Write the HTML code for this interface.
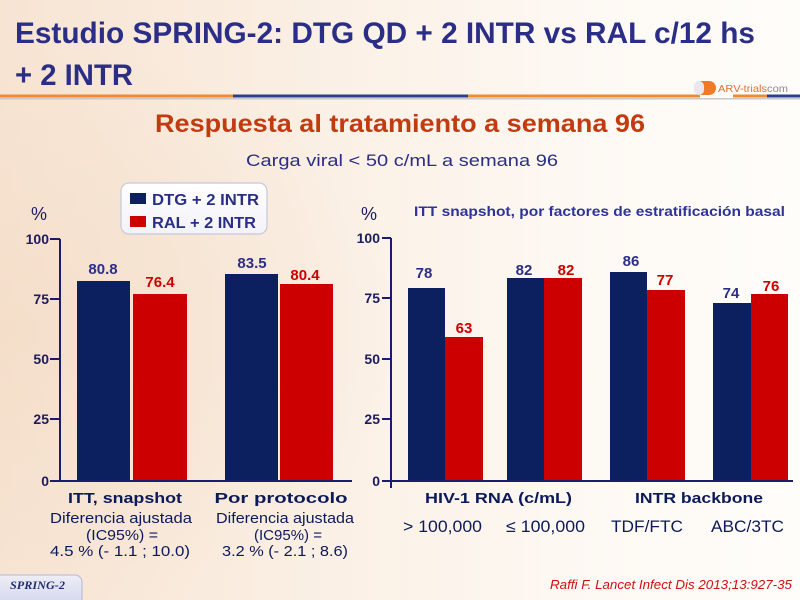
<!DOCTYPE html>
<html><head><meta charset="utf-8">
<style>
html,body{margin:0;padding:0;}
body{width:800px;height:600px;overflow:hidden;background:linear-gradient(90deg,#f7e4d3 0%,#faeee2 35%,#fdf8f2 70%,#fffdfa 100%);}
svg{display:block;}
</style></head>
<body>
<svg width="800" height="600" viewBox="0 0 800 600" xmlns="http://www.w3.org/2000/svg">
<defs>
<radialGradient id="wh" cx="0" cy="0.55" r="0.5">
<stop offset="0" stop-color="#f3dcc6" stop-opacity="0.7"/>
<stop offset="1" stop-color="#f3dcc6" stop-opacity="0"/>
</radialGradient>
<linearGradient id="sp" x1="0" y1="0" x2="0" y2="1">
<stop offset="0" stop-color="#eeeef8"/>
<stop offset="1" stop-color="#cfd2ea"/>
</linearGradient>
<linearGradient id="lg" x1="0" y1="0" x2="0" y2="1">
<stop offset="0" stop-color="#ffffff"/>
<stop offset="1" stop-color="#f2f2f8"/>
</linearGradient>
</defs>
<rect x="0" y="0" width="800" height="600" fill="url(#wh)"/>

<!-- Title -->
<g font-family="Liberation Sans, sans-serif" font-weight="bold" fill="#2b2e86">
<text x="15" y="43" font-size="30" textLength="740" lengthAdjust="spacingAndGlyphs">Estudio SPRING-2: DTG QD + 2 INTR vs RAL c/12 hs</text>
<text x="15" y="85" font-size="30" textLength="118" lengthAdjust="spacingAndGlyphs">+ 2 INTR</text>
</g>
<!-- rule -->
<rect x="0" y="98" width="800" height="1.5" fill="#c8c8cc"/>
<rect x="0" y="94.5" width="233" height="3" fill="#f08a30"/>
<rect x="233" y="94.5" width="235" height="3" fill="#2b3f8f"/>
<rect x="468" y="94.5" width="232" height="3" fill="#f08a30"/>
<rect x="733" y="94.5" width="34" height="3" fill="#f08a30"/>
<rect x="767" y="94.5" width="33" height="3" fill="#2b3f8f"/>
<!-- logo -->
<rect x="694" y="81" width="22" height="14" rx="7" fill="#f07a28"/>
<rect x="694" y="81" width="10" height="14" rx="5" fill="#e8e8ee"/>
<text x="718" y="92" font-family="Liberation Sans, sans-serif" font-size="10.5" fill="#e07030" textLength="70" lengthAdjust="spacingAndGlyphs">ARV-trials<tspan fill="#8a8a8a">com</tspan></text>

<!-- subtitles -->
<text x="155" y="132" font-family="Liberation Sans, sans-serif" font-weight="bold" font-size="25" fill="#c23a10" textLength="490" lengthAdjust="spacingAndGlyphs">Respuesta al tratamiento a semana 96</text>
<text x="246" y="166" font-family="Liberation Sans, sans-serif" font-size="17" fill="#2b2e86" textLength="312" lengthAdjust="spacingAndGlyphs">Carga viral &lt; 50 c/mL a semana 96</text>

<!-- Legend -->
<rect x="121" y="183" width="146" height="51" rx="8" fill="url(#lg)" stroke="#c6c8dc" stroke-width="1.2"/>
<rect x="130" y="193" width="16" height="11" fill="#0c1f5e"/>
<rect x="130" y="216" width="16" height="11" fill="#cc0000"/>
<g font-family="Liberation Sans, sans-serif" font-weight="bold" font-size="16" fill="#2b2e86">
<text x="152" y="205" textLength="107" lengthAdjust="spacingAndGlyphs">DTG + 2 INTR</text>
<text x="152" y="228" textLength="104" lengthAdjust="spacingAndGlyphs">RAL + 2 INTR</text>
</g>

<!-- % labels -->
<g font-family="Liberation Sans, sans-serif" font-size="18" fill="#1c1c5e">
<text x="31" y="220">%</text>
<text x="361" y="220">%</text>
</g>
<text x="414" y="216" font-family="Liberation Sans, sans-serif" font-weight="bold" font-size="14" fill="#2e3399" textLength="371" lengthAdjust="spacingAndGlyphs">ITT snapshot, por factores de estratificación basal</text>

<!-- Left chart -->
<g fill="#0c1f5e">
<rect x="77" y="281" width="53" height="200"/>
<rect x="225" y="274" width="53" height="207"/>
</g>
<g fill="#cc0000">
<rect x="133" y="294" width="54" height="187"/>
<rect x="280" y="284" width="53" height="197"/>
</g>
<g stroke="#1c1c6e" stroke-width="2" fill="none">
<line x1="60" y1="239" x2="60" y2="482"/>
<line x1="59" y1="481" x2="352" y2="481"/>
<line x1="50" y1="239" x2="60" y2="239"/>
<line x1="50" y1="299" x2="60" y2="299"/>
<line x1="50" y1="359" x2="60" y2="359"/>
<line x1="50" y1="419" x2="60" y2="419"/>
<line x1="50" y1="481" x2="60" y2="481"/>
</g>
<g font-family="Liberation Sans, sans-serif" font-weight="bold" font-size="14" fill="#1c1c5e" text-anchor="end">
<text x="49" y="244">100</text>
<text x="49" y="304">75</text>
<text x="49" y="364">50</text>
<text x="49" y="424">25</text>
<text x="49" y="486">0</text>
</g>
<g font-family="Liberation Sans, sans-serif" font-weight="bold" font-size="15" text-anchor="middle">
<text x="103" y="274" fill="#2b2e86">80.8</text>
<text x="160" y="287" fill="#cc0000">76.4</text>
<text x="252" y="268" fill="#2b2e86">83.5</text>
<text x="305" y="280" fill="#cc0000">80.4</text>
</g>

<!-- Right chart -->
<g fill="#0c1f5e">
<rect x="408" y="288" width="37" height="193"/>
<rect x="507" y="278" width="37" height="203"/>
<rect x="610" y="272" width="37" height="209"/>
<rect x="713" y="303" width="38" height="178"/>
</g>
<g fill="#cc0000">
<rect x="445" y="337" width="38" height="144"/>
<rect x="544" y="278" width="38" height="203"/>
<rect x="647" y="290" width="38" height="191"/>
<rect x="751" y="294" width="37" height="187"/>
</g>
<g stroke="#1c1c6e" stroke-width="2" fill="none">
<line x1="391" y1="238" x2="391" y2="488"/>
<line x1="390" y1="481" x2="793" y2="481"/>
<line x1="382" y1="238" x2="391" y2="238"/>
<line x1="382" y1="298" x2="391" y2="298"/>
<line x1="382" y1="359" x2="391" y2="359"/>
<line x1="382" y1="419" x2="391" y2="419"/>
<line x1="382" y1="481" x2="391" y2="481"/>
</g>
<g font-family="Liberation Sans, sans-serif" font-weight="bold" font-size="14" fill="#1c1c5e" text-anchor="end">
<text x="380" y="243">100</text>
<text x="380" y="303">75</text>
<text x="380" y="364">50</text>
<text x="380" y="424">25</text>
<text x="380" y="486">0</text>
</g>
<g font-family="Liberation Sans, sans-serif" font-weight="bold" font-size="15" text-anchor="middle">
<text x="424" y="278" fill="#2b2e86">78</text>
<text x="464" y="333" fill="#cc0000">63</text>
<text x="524" y="275" fill="#2b2e86">82</text>
<text x="566" y="275" fill="#cc0000">82</text>
<text x="631" y="266" fill="#2b2e86">86</text>
<text x="665" y="285" fill="#cc0000">77</text>
<text x="731" y="298" fill="#2b2e86">74</text>
<text x="771" y="291" fill="#cc0000">76</text>
</g>

<!-- Bottom labels left -->
<g font-family="Liberation Sans, sans-serif" fill="#0c1a5a" text-anchor="middle">
<text x="125" y="503" font-weight="bold" font-size="15" textLength="114" lengthAdjust="spacingAndGlyphs">ITT, snapshot</text>
<text x="281" y="503" font-weight="bold" font-size="15" textLength="133" lengthAdjust="spacingAndGlyphs">Por protocolo</text>
<text x="121" y="523" font-size="15" textLength="142" lengthAdjust="spacingAndGlyphs">Diferencia ajustada</text>
<text x="285" y="523" font-size="15" textLength="138" lengthAdjust="spacingAndGlyphs">Diferencia ajustada</text>
<text x="122" y="540" font-size="15" textLength="72" lengthAdjust="spacingAndGlyphs">(IC95%) =</text>
<text x="288" y="540" font-size="15" textLength="68" lengthAdjust="spacingAndGlyphs">(IC95%) =</text>
<text x="120" y="556" font-size="15" textLength="140" lengthAdjust="spacingAndGlyphs">4.5 % (- 1.1 ; 10.0)</text>
<text x="285" y="556" font-size="15" textLength="126" lengthAdjust="spacingAndGlyphs">3.2 % (- 2.1 ; 8.6)</text>
</g>
<!-- Bottom labels right -->
<g font-family="Liberation Sans, sans-serif" fill="#0c1a5a">
<text x="425" y="503" font-weight="bold" font-size="15" textLength="147" lengthAdjust="spacingAndGlyphs">HIV-1 RNA (c/mL)</text>
<text x="635" y="503" font-weight="bold" font-size="15" textLength="128" lengthAdjust="spacingAndGlyphs">INTR backbone</text>
<text x="403" y="532" font-size="17" textLength="79" lengthAdjust="spacingAndGlyphs">&gt; 100,000</text>
<text x="506" y="532" font-size="17" textLength="79" lengthAdjust="spacingAndGlyphs">≤ 100,000</text>
<text x="611" y="532" font-size="17" textLength="72" lengthAdjust="spacingAndGlyphs">TDF/FTC</text>
<text x="711" y="532" font-size="17" textLength="73" lengthAdjust="spacingAndGlyphs">ABC/3TC</text>
</g>

<!-- footer -->
<rect x="-8" y="575" width="90" height="34" rx="7" fill="url(#sp)" stroke="#b4b8d6" stroke-width="1"/>
<text x="10" y="589" font-family="Liberation Serif, serif" font-style="italic" font-weight="bold" font-size="12" fill="#1f2d6e" textLength="55" lengthAdjust="spacingAndGlyphs">SPRING-2</text>
<text x="550" y="589" font-family="Liberation Sans, sans-serif" font-style="italic" font-size="13" fill="#cc1111" textLength="242" lengthAdjust="spacingAndGlyphs">Raffi F. Lancet Infect Dis 2013;13:927-35</text>
</svg>
</body></html>
